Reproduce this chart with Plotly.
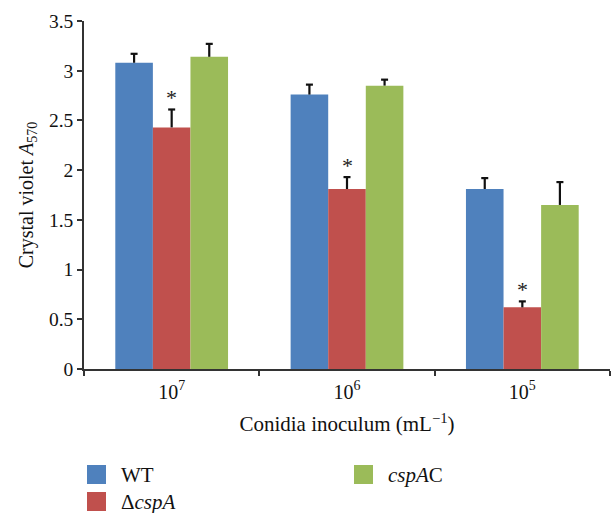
import plotly.graph_objects as go

categories = ["10<sup>7</sup>", "10<sup>6</sup>", "10<sup>5</sup>"]
series_names = ["WT", "Δ<i>cspA</i>", "<i>cspA</i>C"]
series_colors = ["#4F81BD", "#C0504D", "#9BBB59"]
wt_values = [3.08, 2.76, 1.81]
wt_err = [0.09, 0.10, 0.11]
dcspa_values = [2.43, 1.81, 0.62]
dcspa_err = [0.18, 0.12, 0.06]
cspac_values = [3.14, 2.85, 1.65]
cspac_err = [0.13, 0.06, 0.23]
star_labels = ["*", "*", "*"]
y_ticks = [0, 0.5, 1, 1.5, 2, 2.5, 3, 3.5]
y_ticktext = ["0", "0.5", "1", "1.5", "2", "2.5", "3", "3.5"]

values = [wt_values, dcspa_values, cspac_values]
errors = [wt_err, dcspa_err, cspac_err]

FONT = "Liberation Serif, Times New Roman, serif"
W, H = 612, 513
L, R, T, B = 84, 2, 21, 144
BARGAP = 0.357
n_series = len(values)
bar_w = (1 - BARGAP) / n_series

fig = go.Figure()
for k, (name, col, vals, errs) in enumerate(zip(series_names, series_colors, values, errors)):
    fig.add_trace(go.Bar(
        x=categories, y=vals, name=name,
        marker=dict(color=col, line=dict(width=0)),
        error_y=dict(type="data", array=errs, arrayminus=[0] * len(errs),
                     symmetric=False, color="#111111", thickness=2.2, width=0),
        showlegend=False,
    ))
    # caps on top of the one-sided error bars (numeric overlay axis matching category slots)
    offset = (k - (n_series - 1) / 2) * bar_w
    fig.add_trace(go.Scatter(
        x=[i + offset for i in range(len(vals))],
        y=[v + e for v, e in zip(vals, errs)],
        xaxis="x2", mode="markers", hoverinfo="skip", showlegend=False,
        marker=dict(symbol="line-ew", size=5, color="#111111",
                    line=dict(color="#111111", width=2.2)),
    ))

# significance stars over the ΔcspA bars
for cat, v, e, s in zip(categories, dcspa_values, dcspa_err, star_labels):
    fig.add_annotation(x=cat, y=v + e, text=s, showarrow=False,
                       yanchor="bottom", yshift=-3,
                       font=dict(family=FONT, size=22, color="#222222"))

# legend drawn below the plot
def px_to_paper(px, py):
    return (px - L) / (W - L - R), (H - B - py) / (H - T - B)

legend_pos = [(87, 465), (87, 492), (354, 465)]
for (lx, ly), name, col in zip(legend_pos, series_names, series_colors):
    x0, y0 = px_to_paper(lx, ly)
    x1, y1 = px_to_paper(lx + 19, ly + 19)
    fig.add_shape(type="rect", xref="paper", yref="paper",
                  x0=x0, x1=x1, y0=y1, y1=y0,
                  fillcolor=col, line=dict(width=0))
    tx, ty = px_to_paper(lx + 32, ly + 9.5)
    fig.add_annotation(xref="paper", yref="paper", x=tx, y=ty, text=name,
                       showarrow=False, xanchor="left", yanchor="middle",
                       font=dict(family=FONT, size=21, color="#111111"))

fig.update_layout(
    width=W, height=H,
    margin=dict(l=L, r=R, t=T, b=B, pad=0),
    paper_bgcolor="white", plot_bgcolor="white",
    barmode="group", bargap=BARGAP, bargroupgap=0,
    font=dict(family=FONT, size=19, color="#111111"),
    xaxis=dict(
        type="category", tickson="boundaries", ticks="outside", ticklen=5,
        tickwidth=1.5, tickcolor="#333333", ticklabelstandoff=4,
        showline=True, linecolor="#333333", linewidth=1.5,
        showgrid=False, tickfont=dict(family=FONT, size=20),
        title=dict(text="Conidia inoculum (mL<sup>−1</sup>)",
                   font=dict(family=FONT, size=21), standoff=15),
    ),
    xaxis2=dict(
        overlaying="x", range=[-0.5, len(categories) - 0.5], visible=False,
        showgrid=False, zeroline=False,
    ),
    yaxis=dict(
        range=[0, 3.5], tickvals=y_ticks, ticktext=y_ticktext,
        ticks="outside", ticklen=5, tickwidth=1.5, tickcolor="#333333",
        showline=True, linecolor="#333333", linewidth=1.5,
        showgrid=False, zeroline=False, tickfont=dict(family=FONT, size=19.5),
        title=dict(text="Crystal violet <i>A</i><sub>570</sub>",
                   font=dict(family=FONT, size=20), standoff=10),
    ),
)

fig.write_html("out.html", config={"displayModeBar": False},
               post_script="document.body.style.margin='0';")
